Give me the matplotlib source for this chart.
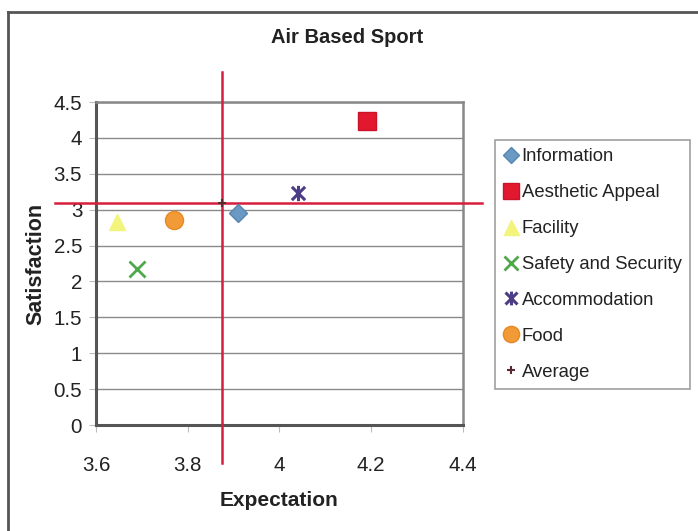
import matplotlib.pyplot as plt
from matplotlib.path import Path
from matplotlib.lines import Line2D

plt.rcParams['font.family'] = ['Liberation Sans', 'DejaVu Sans']

# Expectation / satisfaction scores per attribute
categories = ['Information', 'Aesthetic Appeal', 'Facility', 'Safety and Security',
              'Accommodation', 'Food']
expectation = [3.91, 4.19, 3.646, 3.689, 4.04, 3.77]
satisfaction = [2.96, 4.235, 2.83, 2.17, 3.23, 2.86]

average_expectation = 3.875
average_satisfaction = 3.10

x_ticks = [3.6, 3.8, 4.0, 4.2, 4.4]
x_tick_labels = ['3.6', '3.8', '4', '4.2', '4.4']
y_ticks = [0, 0.5, 1, 1.5, 2, 2.5, 3, 3.5, 4, 4.5]
y_tick_labels = ['0', '0.5', '1', '1.5', '2', '2.5', '3', '3.5', '4', '4.5']

# asterisk-like marker: two diagonals and a vertical stroke
star_marker = Path([(-1, -1), (1, 1), (-1, 1), (1, -1), (0, -1.15), (0, 1.15)],
                   [Path.MOVETO, Path.LINETO, Path.MOVETO, Path.LINETO, Path.MOVETO, Path.LINETO])

styles = [
    dict(marker='D', color='#6a9ac4', ms=9, mec='#5585b0'),
    dict(marker='s', color='#e2182f', ms=13, mec='#c8142a'),
    dict(marker='^', color='#f2f47c', ms=12, mec='#f2f47c'),
    dict(marker='x', color='#4fa84a', ms=11, mew=2),
    dict(marker=star_marker, color='#4d3d87', ms=11, mew=2.2),
    dict(marker='o', color='#f29a35', ms=13, mec='#e58a25'),
]

fig = plt.figure(figsize=(6.98, 5.31), dpi=100)
ax = fig.add_axes([0.1375, 0.1996, 0.5258, 0.6082])

handles = []
for name, x, y, st in zip(categories, expectation, satisfaction, styles):
    h, = ax.plot([x], [y], linestyle='none', label=name, zorder=5, **st)
    handles.append(h)

avg, = ax.plot([average_expectation], [average_satisfaction], linestyle='none', marker='+',
               color='#5a2a30', ms=6, mew=1.5, label='Average', zorder=6)
handles.append(avg)

# average cross-hair, running past the plot area
ax.plot([average_expectation, average_expectation], [-0.53, 4.92], color='#d81e3c', lw=1.8,
        clip_on=False, zorder=4)
ax.plot([3.51, 4.441], [average_satisfaction, average_satisfaction], color='#d81e3c', lw=1.8,
        clip_on=False, zorder=4)

ax.set_xlim(3.6, 4.4)
ax.set_ylim(0, 4.5)
ax.set_xticks(x_ticks)
ax.set_xticklabels(x_tick_labels)
ax.set_yticks(y_ticks)
ax.set_yticklabels(y_tick_labels)
ax.tick_params(axis='both', labelsize=14.8, colors='#bbbbbb', labelcolor='#222222', length=5)
ax.tick_params(axis='x', pad=17)
ax.tick_params(axis='y', pad=5)
ax.grid(axis='y', color='#8a8a8a', lw=1)
ax.set_axisbelow(True)

for side in ['left', 'bottom']:
    ax.spines[side].set_color('#555555')
    ax.spines[side].set_linewidth(2.2)
for side in ['top', 'right']:
    ax.spines[side].set_color('#888888')
    ax.spines[side].set_linewidth(1.8)

ax.set_xlabel('Expectation', fontsize=15, fontweight='bold', color='#222222', labelpad=12)
ax.set_ylabel('Satisfaction', fontsize=15.5, fontweight='bold', color='#222222', labelpad=5)
fig.text(0.497, 0.93, 'Air Based Sport', ha='center', va='center', fontsize=14.5,
         fontweight='bold', color='#222222')

leg = fig.legend(handles=handles, loc='upper left', bbox_to_anchor=(0.709, 0.736),
                 fontsize=13.3, frameon=True, fancybox=False, edgecolor='#888888',
                 handlelength=0.8, handletextpad=0.2, labelspacing=1.02, borderpad=0.45,
                 borderaxespad=0, markerscale=0.9)
leg.get_frame().set_linewidth(1.2)
for t in leg.get_texts():
    t.set_color('#222222')

# outer chart border (top and left edges visible)
fig.add_artist(Line2D([0.012, 1.0], [0.978, 0.978], color='#555555', lw=2))
fig.add_artist(Line2D([0.012, 0.012], [0.0, 0.978], color='#555555', lw=2))

fig.savefig('out.png', dpi=100)
